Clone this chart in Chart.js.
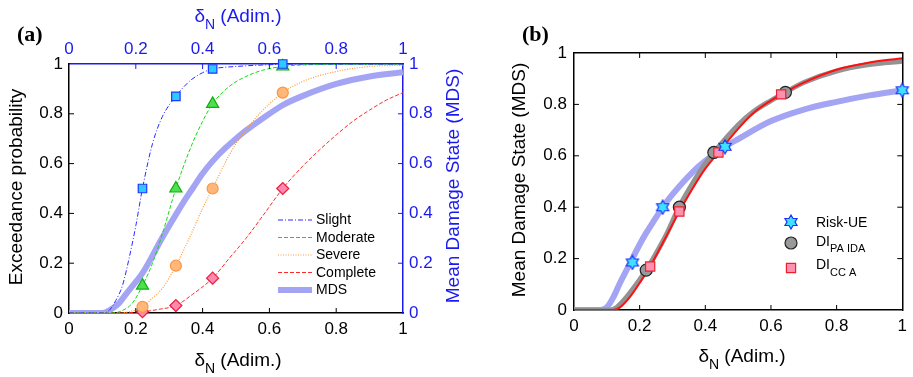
<!DOCTYPE html>
<html>
<head>
<meta charset="utf-8">
<script src="https://cdn.jsdelivr.net/npm/chart.js@4.4.1/dist/chart.umd.min.js"></script>
<style>
  html, body { margin: 0; padding: 0; background: #fff; }
  #wrap { position: relative; width: 913px; height: 377px; overflow: hidden; }
  #ca { position: absolute; left: 0; top: 0; }
  #cb { position: absolute; left: 470px; top: 0; }
</style>
</head>
<body>
<div id="wrap">
  <canvas id="ca" width="470" height="377"></canvas>
  <canvas id="cb" width="443" height="377"></canvas>
</div>
<script>
const FONT = "'Liberation Sans', Arial, Helvetica, sans-serif";
const tickLabels = ['0', '0.2', '0.4', '0.6', '0.8', '1'];

// === panel (a): fragility curves ===
const slightX = [0, 0.1, 0.12, 0.14, 0.16, 0.18, 0.2, 0.22, 0.25, 0.28, 0.32, 0.36, 0.4, 0.43, 0.5, 0.6, 0.7, 1];
const slightY = [0, 0, 0.01, 0.05, 0.11, 0.22, 0.35, 0.5, 0.68, 0.79, 0.87, 0.93, 0.965, 0.98, 0.99, 0.997, 1, 1];
const moderateX = [0, 0.13, 0.16, 0.19, 0.22, 0.25, 0.28, 0.32, 0.36, 0.4, 0.43, 0.48, 0.53, 0.58, 0.64, 0.75, 1];
const moderateY = [0, 0, 0.01, 0.04, 0.11, 0.2, 0.32, 0.5, 0.65, 0.77, 0.84, 0.91, 0.95, 0.975, 0.99, 0.998, 1];
const severeX = [0, 0.15, 0.18, 0.22, 0.25, 0.28, 0.32, 0.36, 0.4, 0.43, 0.47, 0.5, 0.53, 0.57, 0.6, 0.64, 0.7, 0.8, 0.9, 1];
const severeY = [0, 0, 0.005, 0.025, 0.06, 0.1, 0.19, 0.3, 0.42, 0.5, 0.61, 0.68, 0.735, 0.8, 0.84, 0.885, 0.93, 0.97, 0.99, 0.995];
const completeX = [0, 0.12, 0.18, 0.22, 0.27, 0.32, 0.37, 0.43, 0.48, 0.53, 0.58, 0.64, 0.7, 0.75, 0.8, 0.85, 0.9, 0.95, 1];
const completeY = [0, 0, 0.001, 0.005, 0.015, 0.03, 0.075, 0.14, 0.22, 0.3, 0.39, 0.5, 0.59, 0.655, 0.715, 0.77, 0.815, 0.855, 0.885];
const mdsX = [0, 0.1, 0.12, 0.15, 0.173, 0.2, 0.22, 0.25, 0.27, 0.3, 0.32, 0.35, 0.37, 0.4, 0.43, 0.47, 0.5, 0.53, 0.57, 0.6, 0.64, 0.7, 0.8, 0.9, 1];
const mdsY = [0, 0, 0.01, 0.04, 0.08, 0.125, 0.16, 0.23, 0.28, 0.35, 0.395, 0.46, 0.5, 0.56, 0.61, 0.665, 0.7, 0.733, 0.772, 0.8, 0.835, 0.872, 0.92, 0.95, 0.967];

// markers of panel (a)
const markX = [0.22, 0.32, 0.43, 0.64];
const slightMk = [0.5, 0.87, 0.98, 1.0];
const moderateMk = [0.11, 0.5, 0.84, 0.99];
const severeMk = [0.025, 0.19, 0.5, 0.885];
const completeMk = [0.005, 0.03, 0.14, 0.5];

// === panel (b): MDS curves ===
const riskX = [0, 0.08, 0.1, 0.12, 0.14, 0.17, 0.2, 0.22, 0.25, 0.27, 0.3, 0.36, 0.4, 0.46, 0.5, 0.6, 0.7, 0.8, 0.9, 1];
const riskY = [0, 0, 0.01, 0.05, 0.105, 0.18, 0.255, 0.3, 0.36, 0.4, 0.45, 0.535, 0.58, 0.635, 0.665, 0.735, 0.78, 0.81, 0.835, 0.855];
const riskMkX = [0.178, 0.27, 0.46, 1.0];
const riskMkY = [0.185, 0.40, 0.635, 0.855];
const paX = [0, 0.11, 0.13, 0.16, 0.19, 0.22, 0.25, 0.28, 0.32, 0.36, 0.4, 0.426, 0.5, 0.55, 0.6, 0.644, 0.7, 0.8, 0.9, 1];
const paY = [0, 0, 0.01, 0.05, 0.1, 0.155, 0.22, 0.29, 0.4, 0.49, 0.57, 0.613, 0.72, 0.775, 0.815, 0.847, 0.885, 0.93, 0.955, 0.968];
const paMkX = [0.22, 0.321, 0.426, 0.644];
const paMkY = [0.155, 0.40, 0.613, 0.847];
const ccX = [0, 0.12, 0.14, 0.17, 0.2, 0.232, 0.27, 0.321, 0.36, 0.4, 0.44, 0.5, 0.55, 0.6, 0.631, 0.7, 0.8, 0.9, 1];
const ccY = [0, 0, 0.01, 0.05, 0.105, 0.169, 0.26, 0.383, 0.47, 0.55, 0.613, 0.705, 0.77, 0.815, 0.839, 0.885, 0.935, 0.963, 0.98];
const ccMkX = [0.232, 0.321, 0.44, 0.631];
const ccMkY = [0.169, 0.383, 0.613, 0.839];

const BLUE = '#1a1aee';
const MDS_COL = '#a4a4f4';

Chart.defaults.font.family = FONT;
Chart.defaults.animation = false;

const pts = (xs, ys) => xs.map((x, i) => ({ x, y: ys[i] }));

// six point star marker (Risk-UE)
function hexStar(size) {
    const c = document.createElement('canvas');
    c.width = c.height = size;
    const g = c.getContext('2d');
    const m = size / 2, R = size / 2 - 1, r = R / Math.sqrt(3);
    g.beginPath();
    for (let k = 0; k < 12; k++) {
        const rad = k % 2 ? r : R;
        const ang = -Math.PI / 2 + k * Math.PI / 6;
        g.lineTo(m + rad * Math.cos(ang), m + rad * Math.sin(ang));
    }
    g.closePath();
    g.fillStyle = '#3ee2ff'; g.fill();
    g.strokeStyle = '#1a30ff'; g.lineWidth = 1.2; g.stroke();
    return c;
}
const starImg = hexStar(16);

function axis(pos, color, pad, size, showTicks) {
    return {
        type: 'linear', position: pos, min: 0, max: 1,
        ticks: {
            display: showTicks, stepSize: 0.2, padding: pad, color,
            font: { size: 17, family: FONT }, maxRotation: 0, autoSkip: false,
            callback: (v, i) => tickLabels[i]
        },
        grid: { display: false, drawTicks: false },
        border: { display: true, color, width: 1.5 },
        afterFit: s => { if (pos === 'left' || pos === 'right') s.width = size; else s.height = size; }
    };
}

// inward tick marks on every side
const inTicks = {
    id: 'inTicks',
    afterDraw(chart) {
        const ctx = chart.ctx, a = chart.chartArea, len = 5;
        ctx.save();
        ctx.lineWidth = 1;
        Object.values(chart.scales).forEach(s => {
            ctx.strokeStyle = s.options.border.color;
            ctx.beginPath();
            s.ticks.forEach(t => {
                if (t.value <= 0 || t.value >= 1) return;
                const p = s.getPixelForValue(t.value);
                if (s.position === 'bottom') { ctx.moveTo(p, a.bottom); ctx.lineTo(p, a.bottom - len); }
                if (s.position === 'top') { ctx.moveTo(p, a.top); ctx.lineTo(p, a.top + len); }
                if (s.position === 'left') { ctx.moveTo(a.left, p); ctx.lineTo(a.left + len, p); }
                if (s.position === 'right') { ctx.moveTo(a.right, p); ctx.lineTo(a.right - len, p); }
            });
            ctx.stroke();
        });
        ctx.restore();
    }
};

// text in pieces, centred on x (for the subscript titles)
function drawParts(ctx, parts, x, y, color) {
    ctx.save();
    ctx.fillStyle = color; ctx.textAlign = 'left'; ctx.textBaseline = 'alphabetic';
    let w = 0;
    parts.forEach(p => { ctx.font = p[1] + 'px ' + FONT; w += ctx.measureText(p[0]).width; });
    let cx = x - w / 2;
    parts.forEach(p => {
        ctx.font = p[1] + 'px ' + FONT;
        ctx.fillText(p[0], cx, y + (p[2] || 0));
        cx += ctx.measureText(p[0]).width;
    });
    ctx.restore();
}
function drawRot(ctx, text, x, y, color, size) {
    ctx.save();
    ctx.translate(x, y); ctx.rotate(-Math.PI / 2);
    ctx.fillStyle = color; ctx.font = size + 'px ' + FONT;
    ctx.textAlign = 'center'; ctx.textBaseline = 'middle';
    ctx.fillText(text, 0, 0);
    ctx.restore();
}
function panelLabel(ctx, text, x, y) {
    ctx.save();
    ctx.font = "bold 22px 'Liberation Serif', 'Times New Roman', serif";
    ctx.fillStyle = '#000'; ctx.textBaseline = 'alphabetic';
    ctx.fillText(text, x, y);
    ctx.restore();
}
const deltaN = [['\u03b4', 19], ['N', 14, 7], [' (Adim.)', 19]];

// ---------- panel (a) ----------
const lineA = (label, xs, ys, color, dash, width, order) => ({
    label, data: pts(xs, ys), borderColor: color, borderWidth: width, borderDash: dash,
    pointRadius: 0, cubicInterpolationMode: 'monotone', fill: false, order
});
const markA = (ys, style, r, fill, stroke) => ({
    data: pts(markX, ys), showLine: false, pointStyle: style, pointRadius: r,
    pointBackgroundColor: fill, pointBorderColor: stroke, pointBorderWidth: 1.2, clip: false, order: 0
});

const labelsA = {
    id: 'labelsA',
    afterDraw(chart) {
        const ctx = chart.ctx;
        panelLabel(ctx, '(a)', 17, 41);
        drawRot(ctx, 'Exceedance probability', 17, 187, '#000', 19);
        drawRot(ctx, 'Mean Damage State (MDS)', 454, 186, BLUE, 19);
        drawParts(ctx, deltaN, 238, 366, '#000');
        drawParts(ctx, deltaN, 238, 22, BLUE);
        // legend
        const rows = [220, 237.5, 255, 272.5, 290];
        ctx.save();
        chart.data.datasets.slice(0, 5).forEach((ds, i) => {
            ctx.beginPath();
            ctx.strokeStyle = ds.borderColor; ctx.lineWidth = ds.borderWidth;
            ctx.setLineDash(ds.borderDash || []);
            ctx.moveTo(278, rows[i]); ctx.lineTo(312, rows[i]); ctx.stroke();
            ctx.setLineDash([]);
            ctx.fillStyle = '#000'; ctx.font = '14px ' + FONT; ctx.textBaseline = 'middle';
            ctx.fillText(ds.label, 316, rows[i] + 0.5);
        });
        ctx.restore();
    }
};

new Chart(document.getElementById('ca'), {
    type: 'line',
    data: {
        datasets: [
            lineA('Slight', slightX, slightY, '#2a2aff', [5, 2, 1, 2], 1, 1),
            lineA('Moderate', moderateX, moderateY, '#10dd10', [4, 2], 1, 1),
            lineA('Severe', severeX, severeY, '#ff9a3a', [1, 1.5], 1.2, 1),
            lineA('Complete', completeX, completeY, '#ff2a2a', [4, 2], 1, 1),
            lineA('MDS', mdsX, mdsY, MDS_COL, [], 6, 2),
            markA(slightMk, 'rect', 6, '#30c8ff', '#1a3aff'),
            markA(moderateMk, 'triangle', 7, '#4ee04e', '#10b010'),
            markA(severeMk, 'circle', 5.5, '#ffb87a', '#ff9440'),
            markA(completeMk, 'rectRot', 6, '#ff88b0', '#e8203c')
        ]
    },
    options: {
        responsive: false, devicePixelRatio: 1, events: [],
        layout: { padding: 0, autoPadding: false },
        plugins: { legend: { display: false }, tooltip: { enabled: false } },
        scales: {
            x: axis('bottom', '#000', 6, 64, true),
            x2: axis('top', BLUE, 4, 64, true),
            y: axis('left', '#000', 6, 69, true),
            y2: axis('right', BLUE, 6, 67, true)
        }
    },
    plugins: [inTicks, labelsA]
});

// ---------- panel (b) ----------
const labelsB = {
    id: 'labelsB',
    afterDraw(chart) {
        const ctx = chart.ctx;
        panelLabel(ctx, '(b)', 52, 41);
        drawRot(ctx, 'Mean Damage State (MDS)', 50, 180, '#000', 19);
        drawParts(ctx, deltaN, 272, 362, '#000');
        // legend
        const ds = chart.data.datasets;
        const items = [[ds[0], 222], [ds[1], 243], [ds[2], 268]];
        ctx.save();
        items.forEach(([d, y]) => {
            ctx.fillStyle = d.pointBackgroundColor; ctx.strokeStyle = d.pointBorderColor;
            ctx.lineWidth = d.pointBorderWidth;
            Chart.helpers.drawPoint(ctx, { pointStyle: d.pointStyle, radius: d.pointRadius, rotation: 0, borderWidth: d.pointBorderWidth }, 321, y);
        });
        ctx.restore();
        ctx.save();
        ctx.fillStyle = '#000'; ctx.textBaseline = 'middle'; ctx.font = '14px ' + FONT;
        ctx.fillText('Risk-UE', 346, 223);
        ctx.textBaseline = 'alphabetic';
        ctx.fillText('DI', 346, 246);
        let w = ctx.measureText('DI').width;
        ctx.font = '11px ' + FONT; ctx.fillText('PA IDA', 346 + w, 252);
        ctx.font = '14px ' + FONT; ctx.fillText('DI', 346, 269);
        ctx.font = '11px ' + FONT; ctx.fillText('CC A', 346 + w, 276);
        ctx.restore();
    }
};

new Chart(document.getElementById('cb'), {
    type: 'line',
    data: {
        datasets: [
            { data: pts(riskMkX, riskMkY), showLine: false, pointStyle: starImg, pointRadius: 8,
              pointBackgroundColor: '#3ee2ff', pointBorderColor: '#1a30ff', pointBorderWidth: 1.2, clip: false, order: 0 },
            { data: pts(paMkX, paMkY), showLine: false, pointStyle: 'circle', pointRadius: 6,
              pointBackgroundColor: '#999999', pointBorderColor: '#222', pointBorderWidth: 1.2, clip: false, order: 0.2 },
            { data: pts(ccMkX, ccMkY), showLine: false, pointStyle: 'rect', pointRadius: 6.5,
              pointBackgroundColor: '#ff90b0', pointBorderColor: '#ee2030', pointBorderWidth: 1.2, clip: false, order: 0.1 },
            { data: pts(ccX, ccY), borderColor: '#ff1010', borderWidth: 2, pointRadius: 0,
              cubicInterpolationMode: 'monotone', order: 1 },
            { data: pts(paX, paY), borderColor: '#939393', borderWidth: 5, pointRadius: 0,
              cubicInterpolationMode: 'monotone', order: 2 },
            { data: pts(riskX, riskY), borderColor: MDS_COL, borderWidth: 6, pointRadius: 0,
              cubicInterpolationMode: 'monotone', order: 3 }
        ]
    },
    options: {
        responsive: false, devicePixelRatio: 1, events: [],
        layout: { padding: 0, autoPadding: false },
        plugins: { legend: { display: false }, tooltip: { enabled: false } },
        scales: {
            x: axis('bottom', '#000', 6, 67, true),
            x2: axis('top', '#000', 4, 53, false),
            y: axis('left', '#000', 7, 104, true),
            y2: axis('right', '#000', 4, 6, false)
        }
    },
    plugins: [inTicks, labelsB]
});
</script>
</body>
</html>
